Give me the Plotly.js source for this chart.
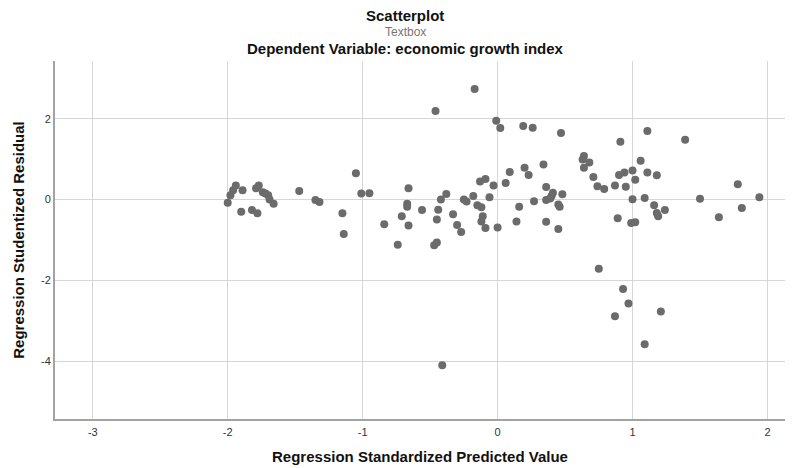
<!DOCTYPE html>
<html>
<head>
<meta charset="utf-8">
<script src="https://cdn.plot.ly/plotly-3.0.1.min.js"></script>
<style>
  html, body { margin: 0; padding: 0; background: #ffffff; }
  #chart { width: 793px; height: 468px; }
</style>
</head>
<body>
<div id="chart"></div>
<script>
// Regression Standardized Predicted Value
const predictedValues = [
  -2.00, -1.98, -1.96, -1.94, -1.89, -1.90, -1.82, -1.78, -1.79, -1.77,
  -1.74, -1.72, -1.70, -1.69, -1.66, -1.47, -1.35, -1.32, -1.15, -1.14,
  -1.05, -1.01, -0.95, -0.84, -0.74, -0.71, -0.67, -0.67, -0.66, -0.66,
  -0.56, -0.44, -0.42, -0.38, -0.45, -0.47, -0.45, -0.33, -0.30, -0.27,
  -0.25, -0.23, -0.18, -0.15, -0.12, -0.11, -0.12, -0.09, -0.13, -0.09,
  -0.03, -0.06, 0.00, -0.41, -0.17, -0.46, -0.01, 0.02, 0.19, 0.26,
  0.47, 0.34, 0.20, 0.23, 0.09, 0.06, 0.27, 0.16, 0.14, 0.36,
  0.36, 0.45, 0.36, 0.39, 0.40, 0.41, 0.48, 0.45, 0.46, 0.64,
  0.63, 0.68, 0.64, 0.71, 0.74, 0.79, 0.87, 0.95, 0.90, 0.94,
  1.00, 1.06, 1.02, 1.11, 1.18, 1.00, 1.09, 1.16, 1.18, 1.19,
  1.24, 0.89, 0.99, 1.02, 1.50, 1.64, 1.78, 1.81, 1.94, 0.75,
  0.93, 0.97, 0.87, 1.21, 1.09, 1.11, 0.91, 1.39
];
// Regression Studentized Residual
const studentizedResiduals = [
  -0.08, 0.11, 0.23, 0.35, 0.23, -0.30, -0.26, -0.34, 0.28, 0.35,
  0.18, 0.15, 0.11, 0.00, -0.10, 0.21, -0.01, -0.06, -0.34, -0.85,
  0.65, 0.15, 0.16, -0.61, -1.12, -0.41, -0.10, -0.18, 0.28, -0.64,
  -0.26, -0.25, 0.00, 0.14, -0.49, -1.13, -1.06, -0.36, -0.63, -0.80,
  0.00, -0.05, 0.09, -0.14, -0.19, -0.41, -0.54, -0.70, 0.45, 0.51,
  0.35, 0.06, -0.69, -4.10, 2.74, 2.19, 1.95, 1.77, 1.82, 1.78,
  1.65, 0.87, 0.79, 0.61, 0.68, 0.41, -0.04, -0.18, -0.54, 0.31,
  -0.55, -0.73, -0.01, 0.03, 0.09, 0.17, 0.13, -0.12, -0.18, 1.08,
  0.99, 0.92, 0.79, 0.56, 0.33, 0.26, 0.35, 0.32, 0.61, 0.67,
  0.72, 0.96, 0.49, 0.67, 0.60, 0.01, 0.04, -0.14, -0.33, -0.41,
  -0.26, -0.46, -0.58, -0.56, 0.02, -0.44, 0.38, -0.21, 0.06, -1.71,
  -2.21, -2.57, -2.89, -2.77, -3.58, 1.70, 1.43, 1.48
];

const xTickValues = [-3, -2, -1, 0, 1, 2];
const yTickValues = [-4, -2, 0, 2];

const chartTitle = "Scatterplot";
const chartSubtitle = "Textbox";
const chartDependent = "Dependent Variable: economic growth index";
const xAxisTitle = "Regression Standardized Predicted Value";
const yAxisTitle = "Regression Studentized Residual";

const FONT = "Liberation Sans, Arial, Helvetica, sans-serif";

const trace = {
  type: "scatter",
  mode: "markers",
  x: predictedValues,
  y: studentizedResiduals,
  marker: { color: "#6b6b6b", size: 8, line: { width: 0 } },
  hoverinfo: "x+y"
};

const layout = {
  width: 793,
  height: 468,
  paper_bgcolor: "#ffffff",
  plot_bgcolor: "#ffffff",
  showlegend: false,
  margin: { l: 55, r: 8, t: 61, b: 49, autoexpand: false },
  font: { family: FONT, size: 11, color: "#333333" },
  xaxis: {
    range: [-3.28, 2.13],
    tickvals: xTickValues,
    ticktext: xTickValues.map(String),
    ticks: "outside",
    ticklen: 2,
    tickcolor: "rgba(0,0,0,0)",
    showgrid: true,
    gridcolor: "#d6d6d6",
    gridwidth: 1.2,
    zeroline: false,
    showline: true,
    linecolor: "#a3a3a3",
    linewidth: 2,
    mirror: false,
    tickfont: { family: FONT, size: 11, color: "#333333" },
    automargin: false,
    title: { text: xAxisTitle, font: { family: FONT, size: 15, color: "#111111", weight: "bold" }, standoff: 14 }
  },
  yaxis: {
    range: [-5.43, 3.43],
    tickvals: yTickValues,
    ticktext: yTickValues.map(String),
    ticks: "",
    showgrid: true,
    gridcolor: "#d6d6d6",
    gridwidth: 1.2,
    zeroline: false,
    showline: true,
    linecolor: "#a3a3a3",
    linewidth: 2,
    mirror: false,
    tickfont: { family: FONT, size: 11, color: "#333333" },
    automargin: false,
    title: { text: yAxisTitle, font: { family: FONT, size: 15, color: "#111111", weight: "bold" }, standoff: 13 }
  },
  annotations: [
    { text: "<b>" + chartTitle + "</b>", xref: "paper", yref: "paper", x: 0.4795, y: (419 - 15.5) / 358,
      xanchor: "center", yanchor: "middle", showarrow: false,
      font: { family: FONT, size: 15, color: "#111111" } },
    { text: chartSubtitle, xref: "paper", yref: "paper", x: 0.4795, y: (419 - 32) / 358,
      xanchor: "center", yanchor: "middle", showarrow: false,
      font: { family: FONT, size: 12, color: "#777777" } },
    { text: "<b>" + chartDependent + "</b>", xref: "paper", yref: "paper", x: 0.4795, y: (419 - 48.5) / 358,
      xanchor: "center", yanchor: "middle", showarrow: false,
      font: { family: FONT, size: 15, color: "#111111" } }
  ]
};

Plotly.newPlot("chart", [trace], layout, { displayModeBar: false, staticPlot: true });
</script>
</body>
</html>
